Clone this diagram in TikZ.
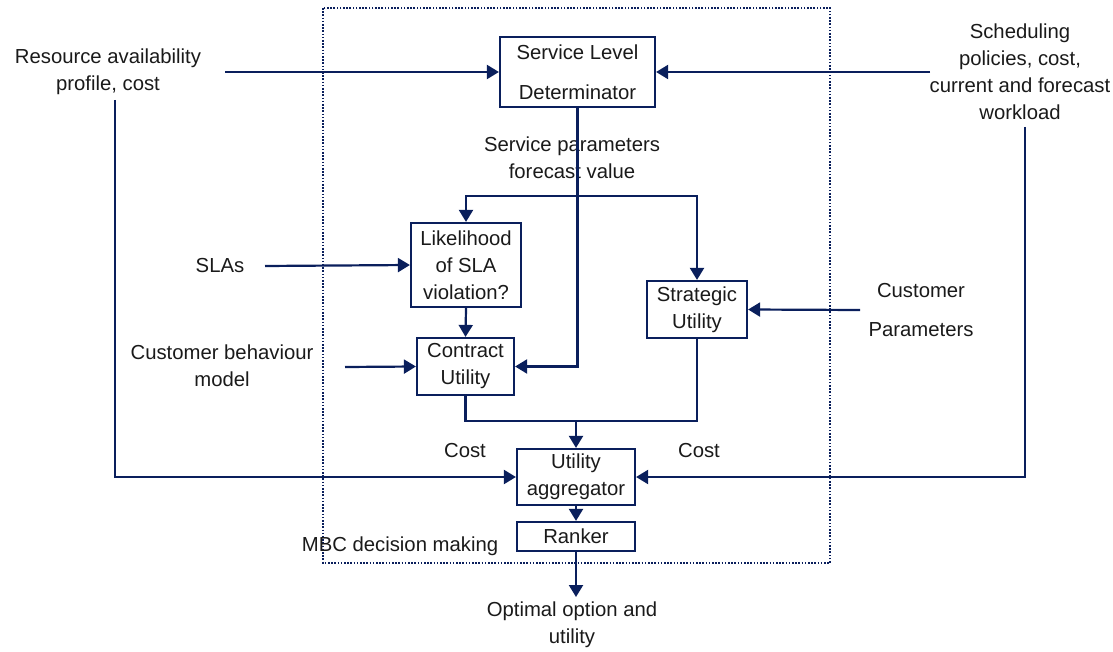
\documentclass[tikz,border=0pt]{standalone}
\usepackage{fontspec}
\setmainfont{Liberation Sans}
\usetikzlibrary{arrows.meta}
\definecolor{navy}{HTML}{0A1F5C}
\definecolor{ink}{HTML}{1A1A1A}
\begin{document}
\begin{tikzpicture}[x=1pt,y=-1pt,
  every node/.style={font=\fontsize{20.3}{27}\selectfont, text=ink, inner sep=0pt, align=center},
  box/.style={draw=navy, line width=2.2pt, fill=white},
  conn/.style={draw=navy, line width=2.2pt},
  arr/.style={conn, -{Triangle[length=12pt,width=14pt]}},
  dotbox/.style={draw=navy, line width=1.6pt, dash pattern=on 1.6pt off 1.6pt}]
\useasboundingbox (0,0) rectangle (1113,652);
\draw[dotbox] (323,8) rectangle (830,563);
% boxes
\node[box, minimum width=155pt, minimum height=70pt] (sld) at (577.5,72) {Service Level\\[13pt]Determinator};
\node[box, minimum width=110pt, minimum height=84pt] (lik) at (466,265) {Likelihood\\of SLA\\violation?};
\node[box, minimum width=97pt, minimum height=57pt] (con) at (465.5,366.5) {Contract\\Utility};
\node[box, minimum width=100pt, minimum height=57pt] (str) at (697,309.5) {Strategic\\Utility};
\node[box, minimum width=118pt, minimum height=56pt] (agg) at (576,477) {Utility\\aggregator};
\node[box, minimum width=118pt, minimum height=29pt] (rank) at (576,536.5) {Ranker};
% labels
\node (res) at (108,72) {Resource availability\\profile, cost};
\node (sched) at (1020,71.5) {Scheduling\\policies, cost,\\current and forecast\\workload};
\node (svc) at (572,157.5) {Service parameters\\forecast value};
\node (slas) at (220,266) {SLAs};
\node (cbm) at (222,366) {Customer behaviour\\model};
\node (cp) at (921,310) {Customer\\[12pt]Parameters};
\node (cost1) at (465,451) {Cost};
\node (cost2) at (699,451) {Cost};
\node (mbc) at (400,546) {MBC decision making};
\node (opt) at (572,625) {Optimal option and\\utility};
% free ends
\coordinate (resE) at (225,72);
\coordinate (schW) at (930,72);
\coordinate (split) at (577.5,196);
\coordinate (slasE) at (265,266);
\coordinate (cbmE) at (345,367);
\coordinate (cpW) at (860,310);
\coordinate (join) at (576,421);
\coordinate (resS) at (115,100);
\coordinate (schS) at (1025,127);
\coordinate (optN) at (576,597);
% connectors
\draw[arr] (resE) -- (sld.west);
\draw[arr] (schW) -- (sld.east);
\draw[arr] (sld.south) |- (con.east);
\draw[arr] (split) -| (lik.north);
\draw[arr] (split) -| (str.north);
\draw[arr] (slasE) -- (lik.west);
\draw[arr] (lik.south) -- (con.north);
\draw[arr] (cbmE) -- (con.west);
\draw[arr] (cpW) -- (str.east);
\draw[conn] (con.south) |- (join) -| (str.south);
\draw[arr] (join) -- (agg.north);
\draw[arr] (resS) |- (agg.west);
\draw[arr] (schS) |- (agg.east);
\draw[arr] (agg.south) -- (rank.north);
\draw[arr] (rank.south) -- (optN);
\end{tikzpicture}
\end{document}
